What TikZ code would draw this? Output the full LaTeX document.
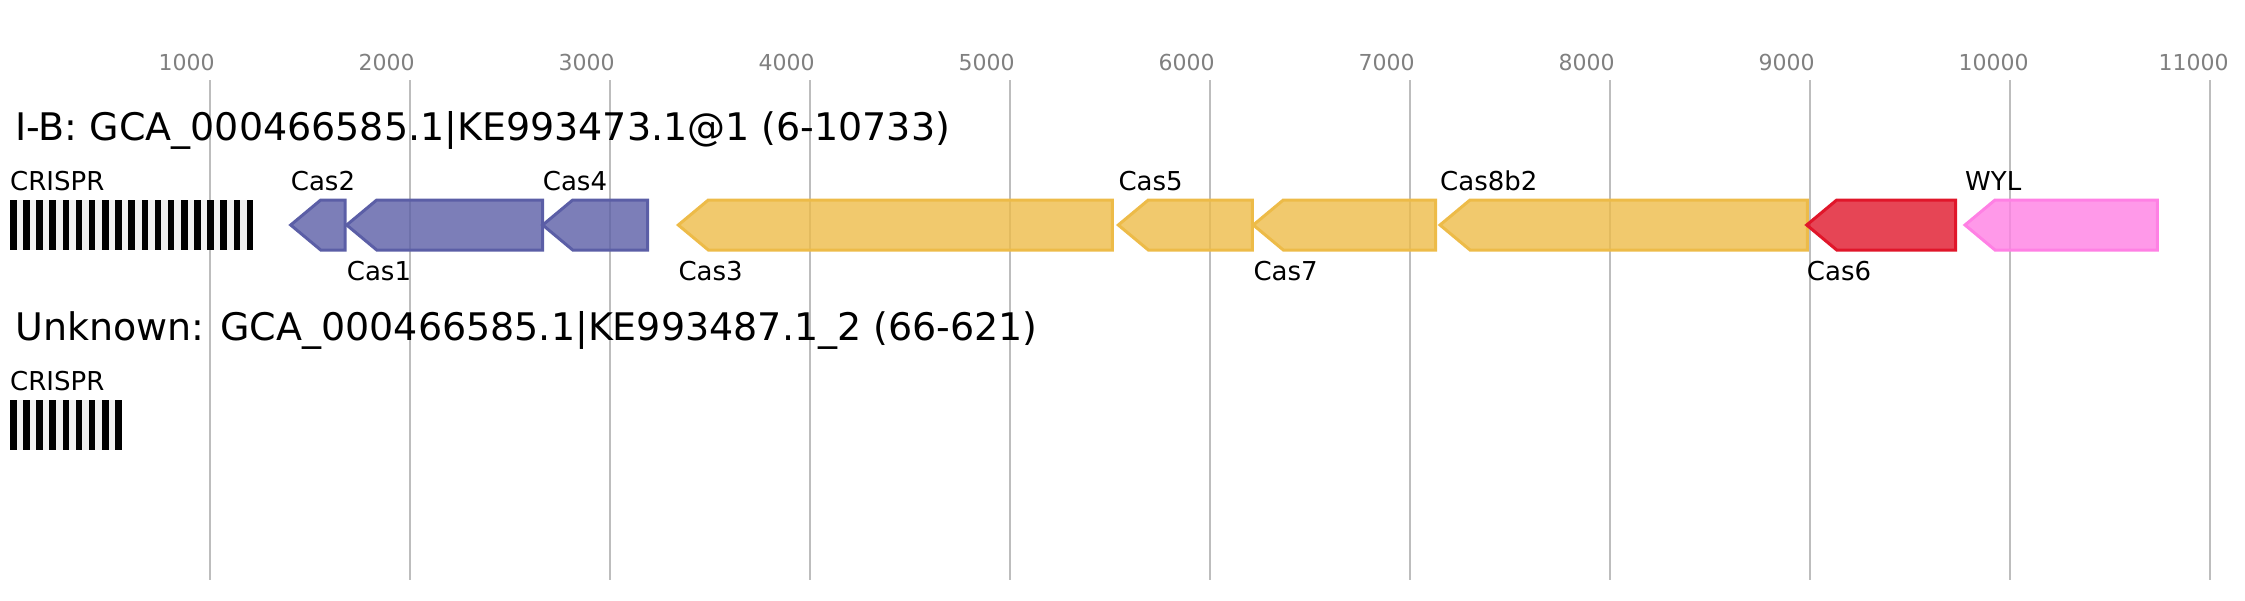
\documentclass[tikz,border=0pt]{standalone}
\usepackage{fontspec}
\setmainfont{DejaVu Sans}

\definecolor{gridgray}{HTML}{BDBDBD}
\definecolor{tickgray}{HTML}{808080}
\definecolor{arraygray}{HTML}{F0F0F0}
\definecolor{casblue}{HTML}{5B5EA6}
\definecolor{casyellow}{HTML}{EDBB48}
\definecolor{casred}{HTML}{E0162A}
\definecolor{caspink}{HTML}{FF80E4}

% one gene arrow on the reverse strand: style, tip x, right x
\newcommand{\genearrow}[3]{%
  \draw[gene, #1] (#2,225) -- (#2+30,200) -- (#3,200) -- (#3,250) -- (#2+30,250) -- cycle;}

\begin{document}
\begin{tikzpicture}[x=1pt, y=-1pt,
    grid/.style={draw=gridgray, line width=2pt},
    ticklabel/.style={anchor=base west, inner sep=0pt, text=tickgray, font=\fontsize{22}{26}\selectfont},
    title/.style={anchor=base west, inner sep=0pt, font=\fontsize{38}{45}\selectfont},
    genelabel/.style={anchor=base west, inner sep=0pt, font=\fontsize{26}{31}\selectfont},
    gene/.style={line width=3pt, line join=miter, fill opacity=0.8},
    blueset/.style={draw=casblue, fill=casblue},
    yellowset/.style={draw=casyellow, fill=casyellow},
    redset/.style={draw=casred, fill=casred},
    pinkset/.style={draw=caspink, fill=caspink}]
  \useasboundingbox (0,0) rectangle (2245,600);

  % Scale: grid lines and labels every 1000 bp
  \foreach \k in {1,...,11} {
    \draw[grid] (10+200*\k,80) -- (10+200*\k,580);
    \node[ticklabel] (tick\k) at (10+200*\k-51.5,70) {\k000};
  }

  % Locus I-B
  \node[title] (title1) at (15,140) {I-B: GCA\_000466585.1|KE993473.1@1 (6-10733)};
  \fill[arraygray] (10,200) rectangle (253.3,250); % CRISPR array
  \foreach \i in {0,...,18}
    \fill (10+13.15*\i,200) rectangle ++(6.575,50);
  \node[genelabel] (crispr1) at (10,190) {CRISPR};

  \genearrow{blueset}{290.7}{345}     % Cas2
  \genearrow{blueset}{346.7}{542.7}   % Cas1
  \genearrow{blueset}{542.7}{647.7}   % Cas4
  \genearrow{yellowset}{678.3}{1112.3} % Cas3
  \genearrow{yellowset}{1118.3}{1252.3} % Cas5
  \genearrow{yellowset}{1253.3}{1435.7} % Cas7
  \genearrow{yellowset}{1440}{1807.3} % Cas8b2
  \genearrow{redset}{1806.7}{1955.7}  % Cas6
  \genearrow{pinkset}{1965}{2157.3}   % WYL

  \node[genelabel] (cas2) at (290.7,190) {Cas2};
  \node[genelabel] (cas1) at (346.7,280) {Cas1};
  \node[genelabel] (cas4) at (542.7,190) {Cas4};
  \node[genelabel] (cas3) at (678.3,280) {Cas3};
  \node[genelabel] (cas5) at (1118.3,190) {Cas5};
  \node[genelabel] (cas7) at (1253.3,280) {Cas7};
  \node[genelabel] (cas8) at (1440,190) {Cas8b2};
  \node[genelabel] (cas6) at (1806.7,280) {Cas6};
  \node[genelabel] (wyl) at (1965,190) {WYL};

  % Unknown locus
  \node[title] (title2) at (15,340) {Unknown: GCA\_000466585.1|KE993487.1\_2 (66-621)};
  \fill[arraygray] (10,400) rectangle (121.8,450); % CRISPR array
  \foreach \i in {0,...,8}
    \fill (10+13.15*\i,400) rectangle ++(6.575,50);
  \node[genelabel] (crispr2) at (10,390) {CRISPR};
\end{tikzpicture}
\end{document}
